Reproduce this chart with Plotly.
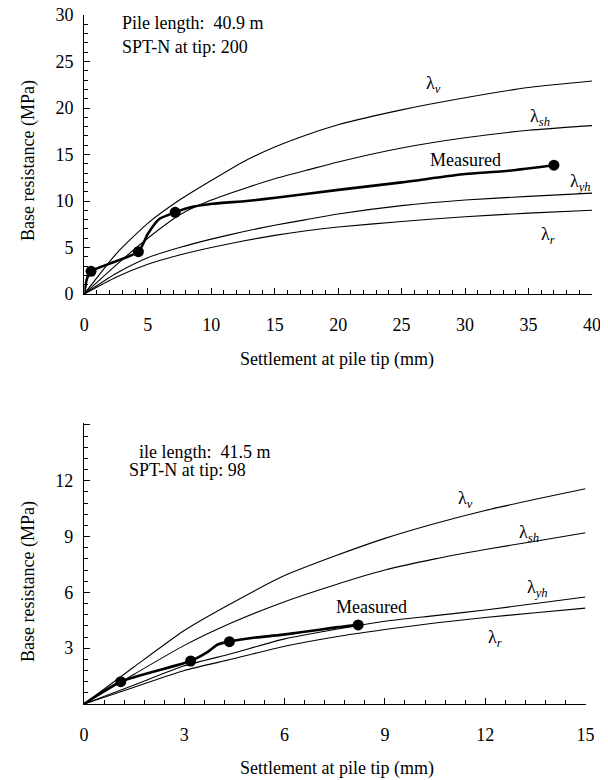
import plotly.graph_objects as go

# ---------------- Data: top panel (Pile length 40.9 m) ----------------
top_x = [0, 2.5, 5, 7.5, 10, 12.5, 15, 17.5, 20, 25, 30, 35, 40]
top_lv = [0, 4.3, 7.6, 10.1, 12.2, 14.2, 15.8, 17.1, 18.2, 19.8, 21.1, 22.2, 22.9]
top_lsh = [0, 3.1, 6.0, 8.5, 10.1, 11.3, 12.4, 13.3, 14.2, 15.7, 16.8, 17.6, 18.1]
top_lyh = [0, 2.2, 3.9, 5.0, 5.9, 6.7, 7.4, 8.0, 8.6, 9.5, 10.1, 10.5, 10.85]
top_lr = [0, 1.8, 3.2, 4.2, 5.0, 5.7, 6.3, 6.8, 7.2, 7.8, 8.3, 8.7, 9.0]
top_meas_x = [0, 0.2, 0.53, 4.26, 5.0, 5.9, 7.16, 8.3, 10.1, 12.8, 15.4, 20, 25, 30, 33, 37]
top_meas_y = [0, 1.6, 2.44, 4.55, 6.45, 8.06, 8.78, 9.3, 9.7, 10.0, 10.4, 11.2, 12.0, 12.9, 13.2, 13.85]
top_pts_x = [0.53, 4.26, 7.16, 37]
top_pts_y = [2.44, 4.55, 8.78, 13.85]

# ---------------- Data: bottom panel (Pile length 41.5 m) ----------------
bot_x = [0, 1.5, 3, 4.4, 6, 7.5, 9, 10.5, 12, 13.5, 15]
bot_lv = [0, 2.0, 3.95, 5.4, 6.9, 7.95, 8.9, 9.7, 10.4, 11.0, 11.57]
bot_lsh = [0, 1.6, 3.15, 4.35, 5.5, 6.4, 7.2, 7.8, 8.3, 8.75, 9.2]
bot_lyh = [0, 1.02, 2.05, 2.7, 3.5, 4.0, 4.45, 4.75, 5.05, 5.4, 5.75]
bot_lr = [0, 0.9, 1.8, 2.4, 3.1, 3.6, 4.0, 4.35, 4.65, 4.9, 5.15]
bot_meas_x = [0, 1.1, 3.19, 3.7, 4.0, 4.35, 5.13, 5.83, 6.43, 7.43, 8.2]
bot_meas_y = [0, 1.2, 2.31, 2.8, 3.2, 3.35, 3.57, 3.7, 3.84, 4.09, 4.25]
bot_pts_x = [1.1, 3.19, 4.35, 8.2]
bot_pts_y = [1.2, 2.31, 3.35, 4.25]

top_xdtick, top_ydtick = 5, 5
bot_xdtick, bot_ydtick = 3, 3

FONT = "Liberation Serif"
FS = 18

fig = go.Figure()

def add_panel(xa, ya, x, curves, mx, my, px, py):
    for yv in curves:
        fig.add_trace(go.Scatter(x=x, y=yv, mode="lines", xaxis=xa, yaxis=ya,
                                 line=dict(color="black", width=1.1, shape="spline", smoothing=0.6),
                                 showlegend=False, hoverinfo="skip"))
    fig.add_trace(go.Scatter(x=mx, y=my, mode="lines", xaxis=xa, yaxis=ya,
                             line=dict(color="black", width=2.6, shape="spline", smoothing=0.6),
                             showlegend=False))
    fig.add_trace(go.Scatter(x=px, y=py, mode="markers", xaxis=xa, yaxis=ya,
                             marker=dict(color="black", size=11), showlegend=False))

add_panel("x", "y", top_x, [top_lv, top_lsh, top_lyh, top_lr],
          top_meas_x, top_meas_y, top_pts_x, top_pts_y)
add_panel("x2", "y2", bot_x, [bot_lv, bot_lsh, bot_lyh, bot_lr],
          bot_meas_x, bot_meas_y, bot_pts_x, bot_pts_y)

# page has an 8px body margin: figure occupies page px 8..608 x 8..780
OFF = 8
PAGE_H = 780
W, H = 600, 772

def px(a):
    return (a - OFF) / W
def py(b):
    return (PAGE_H - b) / H
def dx(a, b):
    return [px(a), px(b)]
def dy(top, bottom):
    return [py(bottom), py(top)]

axis_common = dict(showline=True, linecolor="black", linewidth=1.2, showgrid=False,
                   zeroline=False, ticks="inside", ticklen=6, tickwidth=1.2,
                   tickcolor="black", tickfont=dict(family=FONT, size=FS, color="black"),
                   mirror=False, tickmode="linear", tick0=0, automargin=False,
                   ticklabeloverflow="allow")

def minor(d):
    return dict(ticks="inside", ticklen=3.5, dtick=d, tick0=0, tickcolor="black",
                tickwidth=1, showgrid=False)

fig.update_layout(
    template="none",
    width=W, height=H, autosize=False,
    margin=dict(l=0, r=0, t=0, b=0, pad=0),
    paper_bgcolor="white", plot_bgcolor="white",
    font=dict(family=FONT, size=FS, color="black"),
    xaxis=dict(**axis_common, domain=dx(84.3, 592), range=[0, 40], dtick=top_xdtick,
               ticklabelstandoff=14, anchor="y", minor=minor(1)),
    yaxis=dict(**axis_common, domain=dy(15, 294), range=[0, 30], dtick=top_ydtick,
               ticklabelstandoff=6, anchor="x", minor=minor(1)),
    xaxis2=dict(**axis_common, domain=dx(84, 585.5), range=[0, 15], dtick=bot_xdtick,
                ticklabelstandoff=14, anchor="y2", minor=minor(0.6)),
    yaxis2=dict(**axis_common, domain=dy(423, 704), range=[0, 15.1], dtick=bot_ydtick,
                ticklabelstandoff=6, anchor="x2", minor=minor(0.6),
                labelalias={"0": " ", "15": " "}),
)

def ann(text, x, y, xref, yref, xanchor="center", textangle=0, size=FS):
    fig.add_annotation(text=text, x=x, y=y, xref=xref, yref=yref, showarrow=False,
                       xanchor=xanchor, yanchor="middle", textangle=textangle,
                       font=dict(family=FONT, size=size, color="black"))

# top panel labels
ann("Pile length:  40.9 m", 2.8, 29.1, "x", "y", xanchor="left")
ann("SPT-N at tip: 200", 2.8, 26.6, "x", "y", xanchor="left")
ann("λ<sub><i>v</i></sub>", 27.5, 22.5, "x", "y")
ann("λ<sub><i>sh</i></sub>", 35.9, 19.0, "x", "y")
ann("Measured", 30.0, 14.4, "x", "y")
ann("λ<sub><i>yh</i></sub>", 39.1, 12.0, "x", "y")
ann("λ<sub><i>r</i></sub>", 36.5, 6.3, "x", "y")

# bottom panel labels
ann("ile length:  41.5 m", 1.6, 13.55, "x2", "y2", xanchor="left")
ann("SPT-N at tip: 98", 1.3, 12.6, "x2", "y2", xanchor="left")
ann("λ<sub><i>v</i></sub>", 11.4, 11.0, "x2", "y2")
ann("λ<sub><i>sh</i></sub>", 13.3, 9.15, "x2", "y2")
ann("Measured", 8.6, 5.2, "x2", "y2")
ann("λ<sub><i>yh</i></sub>", 13.55, 6.2, "x2", "y2")
ann("λ<sub><i>r</i></sub>", 12.3, 3.5, "x2", "y2")

# axis titles
ann("Settlement at pile tip (mm)", px(337), py(360), "paper", "paper")
ann("Settlement at pile tip (mm)", px(337), py(768), "paper", "paper")
ann("Base resistance (MPa)", px(28), py(161), "paper", "paper", textangle=-90)
ann("Base resistance (MPa)", px(28), py(582), "paper", "paper", textangle=-90)

fig.write_html("out.html")
